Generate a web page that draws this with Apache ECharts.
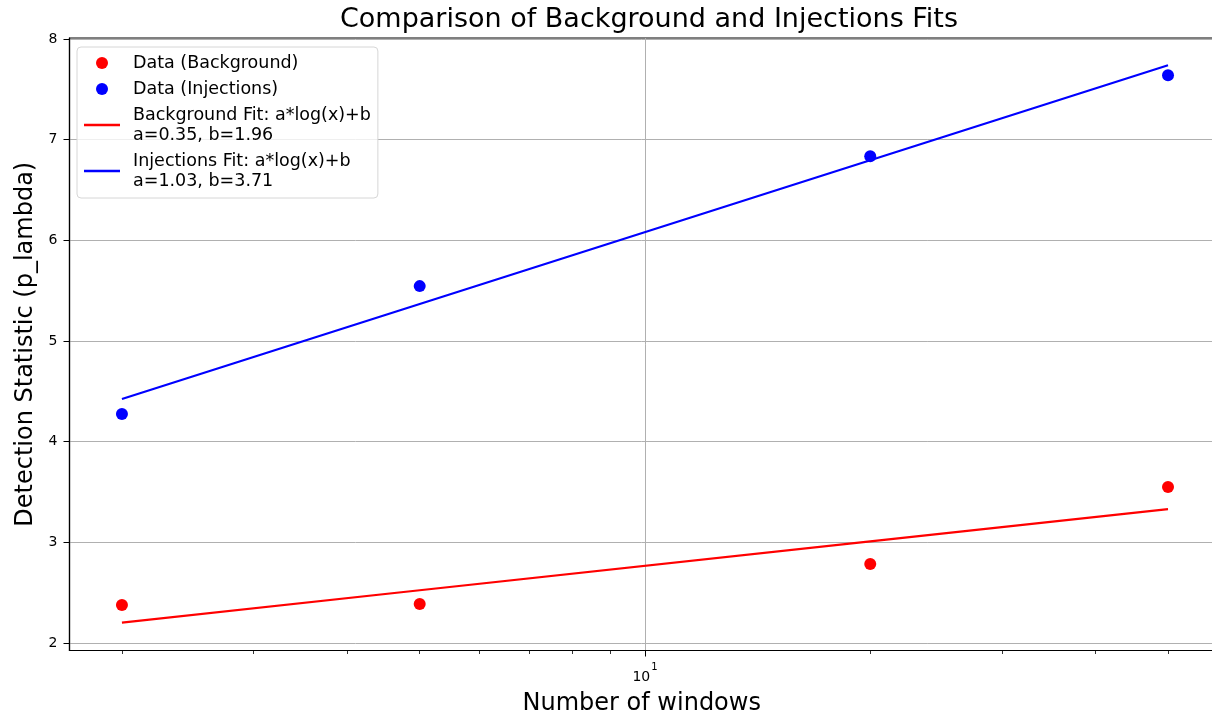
<!DOCTYPE html>
<html>
<head>
<meta charset="utf-8">
<title>Comparison of Background and Injections Fits</title>
<script src="https://cdn.jsdelivr.net/npm/echarts@6/dist/echarts.min.js"></script>
<style>
  html, body { margin: 0; padding: 0; background: #fff; }
  #chart { width: 1212px; height: 716px; }
</style>
</head>
<body>
<div id="chart"></div>
<script>
// Number of windows used for each measurement
const windows = [2, 5, 20, 50];

// Measured detection statistic per window count
const backgroundValues = [2.377, 2.387, 2.785, 3.549];
const injectionValues = [4.274, 5.545, 6.836, 7.640];

// Fit parameters for a*log(x)+b
const backgroundFit = { a: 0.35, b: 1.96 };
const injectionFit = { a: 1.03, b: 3.71 };

// Tick positions on the log x axis
const majorXTicks = [10];
const minorXTicks = [2, 3, 4, 5, 6, 7, 8, 9, 20, 30, 40, 50];
const yTicks = [2, 3, 4, 5, 6, 7, 8];

const FONT = 'DejaVu Sans';
const LINE_ICON = 'path://M0,0H36V2.4H0Z';

function fitLine(fit) {
  return windows.map(x => [x, fit.a * Math.log(x) + fit.b]);
}
function points(values) {
  return windows.map((x, i) => [x, values[i]]);
}

const chart = echarts.init(document.getElementById('chart'), null, { renderer: 'canvas' });

const xCommon = {
  type: 'log',
  logBase: 10,
  min: 1.702,
  max: 57.6,
  position: 'bottom'
};

chart.setOption({
  animation: false,
  backgroundColor: '#ffffff',
  title: {
    text: 'Comparison of Background and Injections Fits',
    left: 644,
    textAlign: 'center',
    top: 1,
    textStyle: { fontFamily: FONT, fontSize: 27, fontWeight: 'normal', color: '#000' }
  },
  grid: {
    left: 69.5,
    right: -2,
    top: 38,
    bottom: 65.5,
    show: true,
    borderColor: '#000',
    borderWidth: 1.2,
    backgroundColor: 'transparent',
    containLabel: false,
    outerBoundsMode: 'none'
  },
  legend: {
    orient: 'vertical',
    left: 77,
    top: 47,
    padding: [6, 7, 7, 7],
    itemGap: 6,
    itemWidth: 36,
    itemHeight: 12,
    backgroundColor: 'rgba(255,255,255,0.8)',
    borderColor: '#d6d6d6',
    borderWidth: 1,
    borderRadius: 4,
    textStyle: { fontFamily: FONT, fontSize: 17.5, color: '#000', lineHeight: 20, padding: [0, 0, 0, 8] },
    data: [
      { name: 'Data (Background)', icon: 'circle', itemStyle: { color: '#ff0000', opacity: 1 } },
      { name: 'Data (Injections)', icon: 'circle', itemStyle: { color: '#0000ff', opacity: 1 } },
      { name: 'Background Fit: a*log(x)+b\na=0.35, b=1.96', icon: LINE_ICON, itemStyle: { color: '#ff0000' } },
      { name: 'Injections Fit: a*log(x)+b\na=1.03, b=3.71', icon: LINE_ICON, itemStyle: { color: '#0000ff' } }
    ]
  },
  xAxis: [
    Object.assign({}, xCommon, {
      name: 'Number of windows',
      nameLocation: 'middle',
      nameGap: 41,
      nameTextStyle: { fontFamily: FONT, fontSize: 24, color: '#000', verticalAlign: 'top' },
      axisLine: { show: true, lineStyle: { color: '#000', width: 1.2 } },
      axisTick: { show: true, length: 6, inside: false, customValues: majorXTicks, lineStyle: { color: '#000', width: 1 } },
      axisLabel: {
        show: true,
        customValues: majorXTicks,
        margin: 12,
        color: '#000',
        formatter: v => (Math.round(v) === 10 ? '{base|10}{sup|1}' : ''),
        rich: {
          base: { fontFamily: FONT, fontSize: 14, color: '#000', lineHeight: 22, verticalAlign: 'bottom' },
          sup: { fontFamily: FONT, fontSize: 10, color: '#000', lineHeight: 22, verticalAlign: 'top', padding: [0, 0, 0, 1] }
        }
      },
      splitLine: { show: true, lineStyle: { color: '#b0b0b0', width: 1 } },
      minorTick: { show: false },
      minorSplitLine: { show: false }
    }),
    Object.assign({}, xCommon, {
      axisLine: { show: false },
      axisTick: { show: true, length: 3.5, inside: false, customValues: minorXTicks, lineStyle: { color: '#000', width: 0.8 } },
      axisLabel: { show: false, customValues: minorXTicks },
      splitLine: { show: false }
    })
  ],
  yAxis: {
    type: 'value',
    min: 1.925,
    max: 8.01,
    name: 'Detection Statistic (p_lambda)',
    nameLocation: 'middle',
    nameGap: 32,
    nameTextStyle: { fontFamily: FONT, fontSize: 24, color: '#000' },
    axisLine: { show: true, lineStyle: { color: '#000', width: 1.2 } },
    axisTick: { show: true, length: 6, inside: false, customValues: yTicks, lineStyle: { color: '#000', width: 1 } },
    axisLabel: {
      show: true,
      customValues: yTicks,
      margin: 12,
      fontFamily: FONT,
      fontSize: 14,
      color: '#000',
      formatter: v => String(Math.round(v))
    },
    splitLine: { show: true, lineStyle: { color: '#b0b0b0', width: 1 } }
  },
  series: [
    {
      name: 'Data (Background)',
      type: 'scatter',
      xAxisIndex: 0,
      data: points(backgroundValues),
      symbol: 'circle',
      symbolSize: 12,
      itemStyle: { color: '#ff0000', opacity: 1 },
      z: 3
    },
    {
      name: 'Data (Injections)',
      type: 'scatter',
      xAxisIndex: 0,
      data: points(injectionValues),
      symbol: 'circle',
      symbolSize: 12,
      itemStyle: { color: '#0000ff', opacity: 1 },
      z: 3
    },
    {
      name: 'Background Fit: a*log(x)+b\na=0.35, b=1.96',
      type: 'line',
      xAxisIndex: 0,
      data: fitLine(backgroundFit),
      symbol: 'none',
      showSymbol: false,
      lineStyle: { color: '#ff0000', width: 2.2 },
      itemStyle: { color: '#ff0000' },
      z: 4
    },
    {
      name: 'Injections Fit: a*log(x)+b\na=1.03, b=3.71',
      type: 'line',
      xAxisIndex: 0,
      data: fitLine(injectionFit),
      symbol: 'none',
      showSymbol: false,
      lineStyle: { color: '#0000ff', width: 2.2 },
      itemStyle: { color: '#0000ff' },
      z: 4
    }
  ]
});
</script>
</body>
</html>
